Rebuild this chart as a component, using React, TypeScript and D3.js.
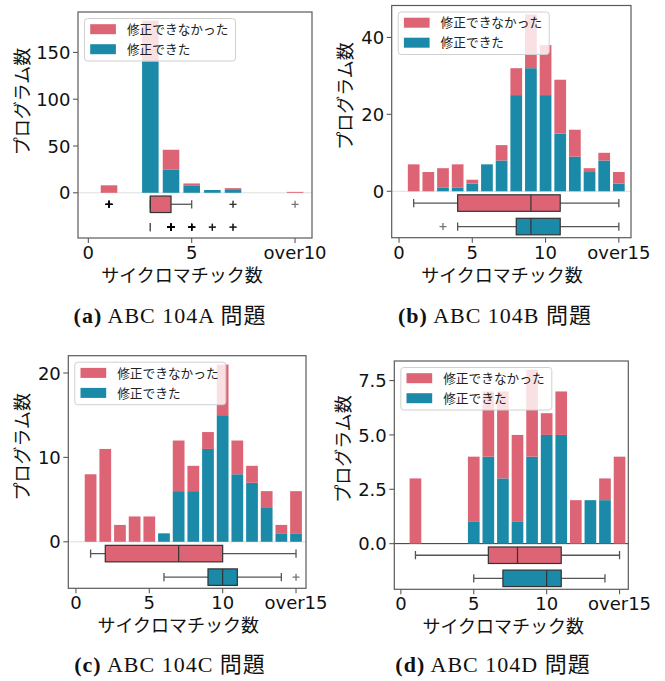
import React from 'react';
import * as d3 from 'd3';

// ---------------- data ----------------
const seriesNames = ['修正できなかった', '修正できた'];

const xA = [1, 2, 3, 4, 5, 6, 7, 8, 9, 10];
const aFixed = [0, 0, 140, 25, 8, 3, 3, 0, 0, 0];
const aTotal = [8, 0, 184, 46, 10, 3, 5, 0, 0, 1];

const x15 = [1, 2, 3, 4, 5, 6, 7, 8, 9, 10, 11, 12, 13, 14, 15];
const bFixed = [0, 0, 1, 1, 2, 7, 8, 25, 32, 25, 15, 9, 5, 8, 2];
const bTotal = [7, 5, 6, 7, 3, 7, 12, 32, 46, 38, 29, 16, 6, 10, 5];
const cFixed = [0, 0, 0, 0, 0, 1, 6, 6, 11, 15, 8, 7, 4, 1, 1];
const cTotal = [8, 11, 2, 3, 3, 1, 12, 9, 13, 21, 12, 9, 6, 2, 6];
const dFixed = [0, 0, 0, 0, 1, 4, 3, 1, 4, 5, 5, 0, 2, 2, 0];
const dTotal = [3, 0, 0, 0, 4, 7, 7, 5, 8, 6, 7, 2, 2, 3, 4];

const aXTicks = [0, 5, 10];
const aXTickLabels = ['0', '5', 'over10'];
const x15Ticks = [0, 5, 10, 15];
const x15TickLabels = ['0', '5', '10', 'over15'];
const aYTicks = [0, 50, 100, 150];
const bYTicks = [0, 20, 40];
const cYTicks = [0, 10, 20];
const dYTicks = [0, 2.5, 5, 7.5];
const dYTickLabels = ['0.0', '2.5', '5.0', '7.5'];

const captions = ['ABC 104A 問題', 'ABC 104B 問題', 'ABC 104C 問題', 'ABC 104D 問題'];
const captionTags = ['(a)', '(b)', '(c)', '(d)'];
const xLabel = 'サイクロマチック数';
const yLabel = 'プログラム数';

// ---------------- styles / layout ----------------
const RED = '#dc6474';
const TEAL = '#1a8aa8';
const SPINE = '#5a5a5a';
const FONT = '"DejaVu Sans", "Noto Sans CJK JP", sans-serif';
const JFONT = '"Noto Sans CJK JP", "DejaVu Sans", sans-serif';
const SERIF = '"Liberation Serif", "Noto Sans CJK JP", serif';

const layouts = [
  { left: 78, top: 12, right: 312, bottom: 238, xDom: [-0.5, 10.82], xl: 182, yl: 101.5, yx: 22.5, cap: [170, 323], zeroDark: false },
  { left: 391.7, top: 5.5, right: 631, bottom: 237.7, xDom: [-0.5, 15.83], xl: 502, yl: 96, yx: 345.5, cap: [495, 323], zeroDark: false },
  { left: 68.3, top: 355.7, right: 306, bottom: 588.3, xDom: [-0.52, 15.68], xl: 178.3, yl: 446.7, yx: 22.5, cap: [170, 672], zeroDark: false },
  { left: 394.3, top: 361, right: 628.3, bottom: 589.3, xDom: [-0.45, 15.6], xl: 503.3, yl: 449, yx: 343.3, cap: [493, 672], zeroDark: true },
];

function expand(xs: number[], counts: number[]) {
  const out: number[] = [];
  xs.forEach((x, i) => {
    for (let k = 0; k < counts[i]; k++) out.push(x);
  });
  return out;
}

function boxStats(values: number[]) {
  const s = values.slice().sort((a, b) => a - b);
  const q1 = d3.quantileSorted(s, 0.25) as number;
  const med = d3.quantileSorted(s, 0.5) as number;
  const q3 = d3.quantileSorted(s, 0.75) as number;
  const iqr = q3 - q1;
  const lo = d3.min(s.filter((v) => v >= q1 - 1.5 * iqr)) as number;
  const hi = d3.max(s.filter((v) => v <= q3 + 1.5 * iqr)) as number;
  const fliers = s.filter((v) => v < lo || v > hi);
  return { q1, med, q3, lo, hi, fliers };
}

type PanelProps = {
  idx: number;
  xs: number[];
  fixed: number[];
  total: number[];
  xTicks: number[];
  xTickLabels: string[];
  yTicks: number[];
  yTickLabels: string[];
};

function Panel({ idx, xs, fixed, total, xTicks, xTickLabels, yTicks, yTickLabels }: PanelProps) {
  const L = layouts[idx];
  const unfixed = total.map((t, i) => t - fixed[i]);
  const yTop = 1.05 * (d3.max(total) as number);
  const x = d3.scaleLinear().domain(L.xDom).range([L.left, L.right]);
  const y = d3.scaleLinear().domain([-0.25 * yTop, yTop]).range([L.bottom, L.top]);
  const bw = x(0.8) - x(0);

  const boxes = [
    { stats: boxStats(expand(xs, unfixed)), pos: -0.0635 * yTop, color: RED },
    { stats: boxStats(expand(xs, fixed)), pos: -0.19 * yTop, color: TEAL },
  ];
  const bh = 16.5;

  const lx = L.left + 6.5;
  const ly = L.top + 6.5;

  return (
    <g>
      <clipPath id={`clip${idx}`}>
        <rect x={L.left} y={L.top} width={L.right - L.left} height={L.bottom - L.top} />
      </clipPath>
      <g clipPath={`url(#clip${idx})`}>
        <line x1={L.left} x2={L.right} y1={y(0)} y2={y(0)} stroke={L.zeroDark ? '#333' : '#dedede'} strokeWidth={1} />
        {xs.map((xv, i) => (
          <g key={i}>
            {fixed[i] > 0 && (
              <rect x={x(xv) - bw / 2} width={bw} y={y(fixed[i])} height={y(0) - y(fixed[i])} fill={TEAL} />
            )}
            {unfixed[i] > 0 && (
              <rect x={x(xv) - bw / 2} width={bw} y={y(total[i])} height={y(fixed[i]) - y(total[i])} fill={RED} />
            )}
          </g>
        ))}
        {boxes.map((b, k) => {
          const cy = y(b.pos);
          const s = b.stats;
          return (
            <g key={k}>
              <line x1={x(s.lo)} x2={x(s.q1)} y1={cy} y2={cy} stroke="#555" strokeWidth={1.3} />
              <line x1={x(s.q3)} x2={x(s.hi)} y1={cy} y2={cy} stroke="#555" strokeWidth={1.3} />
              <line x1={x(s.lo)} x2={x(s.lo)} y1={cy - bh / 4} y2={cy + bh / 4} stroke="#555" strokeWidth={1.3} />
              <line x1={x(s.hi)} x2={x(s.hi)} y1={cy - bh / 4} y2={cy + bh / 4} stroke="#555" strokeWidth={1.3} />
              {s.q3 > s.q1 && (
                <rect x={x(s.q1)} width={x(s.q3) - x(s.q1)} y={cy - bh / 2} height={bh} fill={b.color} stroke="#333" strokeWidth={1.2} />
              )}
              {s.q3 > s.q1 && (
                <line x1={x(s.med)} x2={x(s.med)} y1={cy - bh / 2} y2={cy + bh / 2} stroke="#333" strokeWidth={1.2} />
              )}
              {s.fliers.map((f, j) => (
                <path
                  key={j}
                  d={`M${x(f) - 3.5},${cy}h7M${x(f)},${cy - 3.5}v7`}
                  stroke="#000"
                  strokeWidth={1.3}
                  strokeOpacity={0.55}
                  fill="none"
                />
              ))}
            </g>
          );
        })}
      </g>
      {/* legend */}
      <rect x={lx} y={ly} width={151} height={42.5} rx={3} fill="#fff" fillOpacity={0.8} stroke="#d0d0d0" strokeWidth={1} />
      {[RED, TEAL].map((c, k) => (
        <g key={k}>
          <rect x={lx + 5.7} y={ly + 10.7 + 20 * k - 5} width={25.7} height={10} fill={c} />
          <text x={lx + 42.4} y={ly + 10.7 + 20 * k + 4.6} fontFamily={JFONT} fontSize={12.7} fill="#222">
            {seriesNames[k]}
          </text>
        </g>
      ))}
      {/* spines */}
      <rect x={L.left} y={L.top} width={L.right - L.left} height={L.bottom - L.top} fill="none" stroke={SPINE} strokeWidth={1.2} />
      {xTicks.map((t, i) => (
        <g key={i}>
          <line x1={x(t)} x2={x(t)} y1={L.bottom} y2={L.bottom + 5} stroke={SPINE} strokeWidth={1.1} />
          <text x={x(t)} y={L.bottom + 21} textAnchor="middle" fontFamily={FONT} fontSize={18} fill="#111">
            {xTickLabels[i]}
          </text>
        </g>
      ))}
      {yTicks.map((t, i) => (
        <g key={i}>
          <line x1={L.left - 5} x2={L.left} y1={y(t)} y2={y(t)} stroke={SPINE} strokeWidth={1.1} />
          <text x={L.left - 7.5} y={y(t) + 6.6} textAnchor="end" fontFamily={FONT} fontSize={18} fill="#111">
            {yTickLabels[i]}
          </text>
        </g>
      ))}
      <text x={L.xl} y={L.bottom + 37 + 6.8} textAnchor="middle" fontFamily={JFONT} fontSize={18} fill="#111">
        {xLabel}
      </text>
      <text
        transform={`translate(${L.yx + 6.8},${L.yl}) rotate(-90)`}
        textAnchor="middle"
        fontFamily={JFONT}
        fontSize={18}
        fill="#111"
      >
        {yLabel}
      </text>
      <text x={L.cap[0]} y={L.cap[1]} textAnchor="middle" fontFamily={SERIF} fontSize={22} letterSpacing={1} fill="#111">
        <tspan fontWeight="bold">{captionTags[idx]}</tspan>
        <tspan>{' ' + captions[idx]}</tspan>
      </text>
    </g>
  );
}

export default function App() {
  const fmt = (v: number) => String(v);
  return (
    <svg width={665} height={681} style={{ position: 'absolute', left: 0, top: 0, background: '#fff' }}>
      <rect width={665} height={681} fill="#fff" />
      <Panel idx={0} xs={xA} fixed={aFixed} total={aTotal} xTicks={aXTicks} xTickLabels={aXTickLabels} yTicks={aYTicks} yTickLabels={aYTicks.map(fmt)} />
      <Panel idx={1} xs={x15} fixed={bFixed} total={bTotal} xTicks={x15Ticks} xTickLabels={x15TickLabels} yTicks={bYTicks} yTickLabels={bYTicks.map(fmt)} />
      <Panel idx={2} xs={x15} fixed={cFixed} total={cTotal} xTicks={x15Ticks} xTickLabels={x15TickLabels} yTicks={cYTicks} yTickLabels={cYTicks.map(fmt)} />
      <Panel idx={3} xs={x15} fixed={dFixed} total={dTotal} xTicks={x15Ticks} xTickLabels={x15TickLabels} yTicks={dYTicks} yTickLabels={dYTickLabels} />
    </svg>
  );
}
